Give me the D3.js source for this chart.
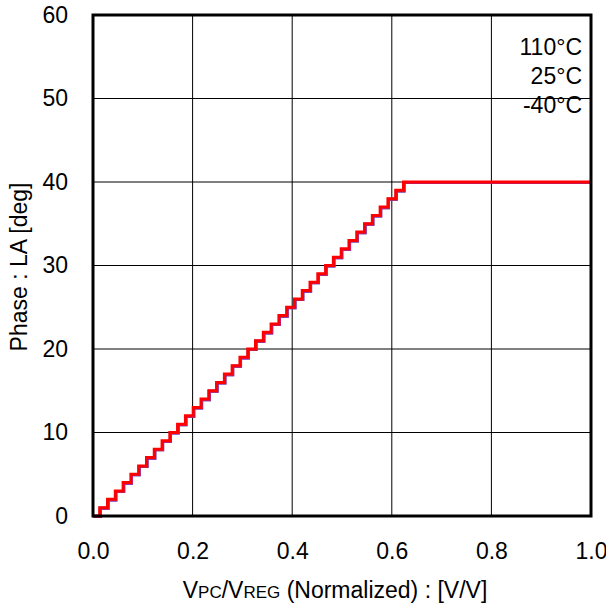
<!DOCTYPE html>
<html><head><meta charset="utf-8">
<script src="https://cdn.jsdelivr.net/npm/d3@7"></script>
<style>body{margin:0;background:#fff}svg{display:block}</style>
</head><body>
<svg id="c" width="606" height="610"></svg>
<script>
// Step thresholds: x value at which phase rises to level k (k = 1..40)
const stepX = [0.0135,0.0292,0.0448,0.0605,0.0761,0.0917,0.1074,0.1230,0.1387,0.1543,
  0.1699,0.1856,0.2012,0.2169,0.2325,0.2481,0.2638,0.2794,0.2951,0.3107,
  0.3263,0.3420,0.3576,0.3733,0.3889,0.4045,0.4202,0.4358,0.4515,0.4671,
  0.4827,0.4984,0.5140,0.5297,0.5453,0.5609,0.5766,0.5922,0.6079,0.6235];
const stepY = [1,2,3,4,5,6,7,8,9,10,11,12,13,14,15,16,17,18,19,20,
  21,22,23,24,25,26,27,28,29,30,31,32,33,34,35,36,37,38,39,40];
const xStart = 0.0, yStart = 0, xEnd = 1.0;
const seriesNames = ["110°C","25°C","-40°C"];
const seriesColors = ["#3040c0","#a030a0","#ff0000"];
const xTicks = [0,0.2,0.4,0.6,0.8,1.0];
const yTicks = [0,10,20,30,40,50,60];

const svg = d3.select("#c");
const L=93,R=591,T=15,B=516;
const x = d3.scaleLinear().domain([0,1]).range([L,R]);
const y = d3.scaleLinear().domain([0,60]).range([B,T]);
const font = "'Liberation Sans', Arial, sans-serif";
const fs = 23;

// grid
svg.append("g").selectAll("line").data(xTicks.slice(1,-1)).join("line")
  .attr("x1",d=>x(d)).attr("x2",d=>x(d)).attr("y1",T).attr("y2",B)
  .attr("stroke","#000").attr("stroke-width",1);
svg.append("g").selectAll("line").data(yTicks.slice(1,-1)).join("line")
  .attr("y1",d=>y(d)).attr("y2",d=>y(d)).attr("x1",L).attr("x2",R)
  .attr("stroke","#000").attr("stroke-width",1);

// data
const pts = [[xStart,yStart]].concat(stepX.map((v,i)=>[v,stepY[i]]));
pts.push([xEnd, stepY[stepY.length-1]]);
const line = d3.line().x(d=>x(d[0])).y(d=>y(d[1])).curve(d3.curveStepAfter);
seriesNames.forEach((n,i)=>{
  svg.append("path").datum(pts).attr("d",line).attr("fill","none")
    .attr("stroke",seriesColors[i]).attr("stroke-width",3)
    .attr("transform", i<2 ? "translate(0.6,0.6)" : null);
});

// frame
svg.append("rect").attr("x",L).attr("y",T).attr("width",R-L).attr("height",B-T)
  .attr("fill","none").attr("stroke","#000").attr("stroke-width",3);

// axes
const xa = svg.append("g").attr("transform",`translate(0,${B})`)
  .call(d3.axisBottom(x).tickValues(xTicks).tickFormat(d3.format(".1f")).tickSize(0).tickPadding(27));
const ya = svg.append("g").attr("transform",`translate(${L},0)`)
  .call(d3.axisLeft(y).tickValues(yTicks).tickSize(0).tickPadding(25));
[xa,ya].forEach(a=>{a.select(".domain").remove();
  a.selectAll("text").attr("font-family",font).attr("font-size",fs).attr("fill","#000");});

// legend
seriesNames.forEach((n,i)=>{
  svg.append("text").attr("x",582).attr("y",55+i*29).attr("text-anchor","end")
    .attr("font-family",font).attr("font-size",fs).text(n);
});

// axis titles
const xt = svg.append("text").attr("x",335).attr("y",598).attr("text-anchor","middle")
  .attr("font-family",font).attr("font-size",fs);
xt.append("tspan").text("V");
xt.append("tspan").attr("font-size",17).text("PC");
xt.append("tspan").text("/V");
xt.append("tspan").attr("font-size",17).text("REG");
xt.append("tspan").text(" (Normalized) : [V/V]");

svg.append("text").attr("transform","translate(27,267) rotate(-90)").attr("text-anchor","middle")
  .attr("font-family",font).attr("font-size",fs).text("Phase : LA [deg]");
</script>
</body></html>
